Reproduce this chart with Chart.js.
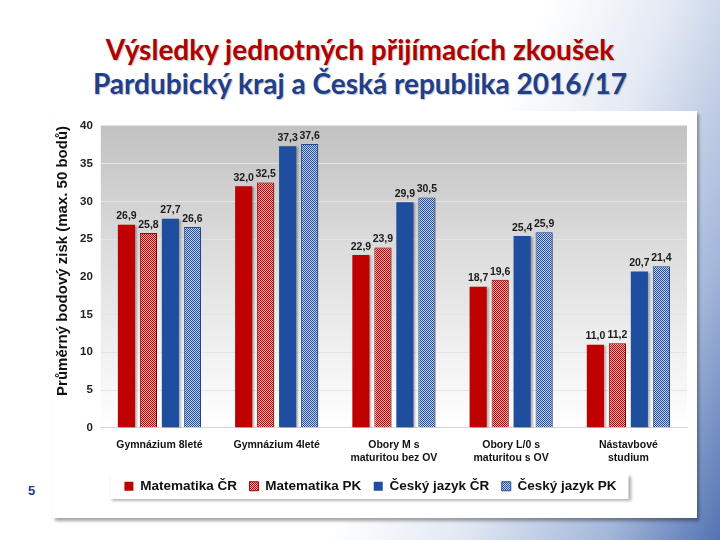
<!DOCTYPE html>
<html>
<head>
<meta charset="utf-8">
<script src="https://cdn.jsdelivr.net/npm/chart.js@4.4.1/dist/chart.umd.min.js"></script>
<style>
  html, body { margin: 0; padding: 0; }
  body {
    width: 720px; height: 540px; overflow: hidden; position: relative;
    background: linear-gradient(112deg, #ffffff 58%, #e3e9f3 72%, #a3b6da 88%, #5273b2 100%);
  }
  .title {
    position: absolute; left: 0; top: 32px; width: 720px; text-align: center;
    font-family: Lato, "Open Sans", sans-serif; font-weight: bold; font-size: 28px;
    line-height: 34px; text-shadow: 1px 1px 1px rgba(0,0,0,0.25);
  }
  .t1 { color: #b00000; }
  .t2 { color: #1f3f8c; }
  #card {
    position: absolute; left: 53px; top: 111px; width: 644px; height: 407px;
    background: #fff; box-shadow: 2px 3px 3px rgba(0,0,0,0.35);
  }
  .num {
    position: absolute; left: 28px; top: 483px; color: #1f3f8c;
    font-family: Arial, "Liberation Sans", sans-serif; font-weight: bold; font-size: 13px;
  }
</style>
</head>
<body>
<div class="title"><div class="t1">Výsledky jednotných přijímacích zkoušek</div><div class="t2">Pardubický kraj a Česká republika 2016/17</div></div>
<div class="num">5</div>
<div id="card"><canvas id="myChart" width="644" height="407"></canvas></div>
<script>
const categories = [
    ['Gymnázium 8leté'],
    ['Gymnázium 4leté'],
    ['Obory M s', 'maturitou bez OV'],
    ['Obory L/0 s', 'maturitou s OV'],
    ['Nástavbové', 'studium']
];
const mathCR = [26.9, 32.0, 22.9, 18.7, 11.0];
const mathPK = [25.8, 32.5, 23.9, 19.6, 11.2];
const czechCR = [27.7, 37.3, 29.9, 25.4, 20.7];
const czechPK = [26.6, 37.6, 30.5, 25.9, 21.4];
const seriesNames = ['Matematika ČR', 'Matematika PK', 'Český jazyk ČR', 'Český jazyk PK'];

const fontFam = "Arial, 'Liberation Sans', sans-serif";

function makePattern(color, light) {
    let c = document.createElement('canvas');
    c.width = 4; c.height = 4;
    let g = c.getContext('2d');
    g.fillStyle = light;
    g.fillRect(0, 0, 4, 4);
    g.fillStyle = color;
    for (let y = 0; y < 4; y++) {
        for (let x = 0; x < 4; x++) {
            if ((x + y) % 2 === 0) g.fillRect(x, y, 1, 1);
        }
    }
    return g.createPattern(c, 'repeat');
}

// plot background, legend frame, bar shadows and value labels
const decorPlugin = {
    id: 'decor',
    beforeDraw(chart) {
        const ctx = chart.ctx;
        const a = chart.chartArea;
        ctx.save();
        let grad = ctx.createLinearGradient(0, a.top, 0, a.bottom);
        grad.addColorStop(0, '#c2c2c2');
        grad.addColorStop(0.5, '#e2e2e2');
        grad.addColorStop(1, '#ffffff');
        ctx.fillStyle = grad;
        ctx.fillRect(a.left, a.top, a.right - a.left, a.bottom - a.top);

        let boxes = chart.legend.legendHitBoxes;
        if (boxes && boxes.length) {
            let l = Math.min(...boxes.map(b => b.left)) - 14;
            let r = Math.max(...boxes.map(b => b.left + b.width)) + 12;
            let t = Math.min(...boxes.map(b => b.top)) - 6;
            let btm = Math.max(...boxes.map(b => b.top + b.height)) + 6;
            ctx.shadowColor = 'rgba(0,0,0,0.35)';
            ctx.shadowOffsetX = 2;
            ctx.shadowOffsetY = 2;
            ctx.shadowBlur = 3;
            ctx.fillStyle = '#ffffff';
            ctx.fillRect(l, t, r - l, btm - t);
        }
        ctx.restore();
    },
    beforeDatasetsDraw(chart) {
        const ctx = chart.ctx;
        ctx.save();
        ctx.shadowColor = 'rgba(0,0,0,0.3)';
        ctx.shadowOffsetX = 2;
        ctx.shadowOffsetY = 1;
        ctx.shadowBlur = 2;
    },
    afterDatasetsDraw(chart) {
        const ctx = chart.ctx;
        ctx.restore();
        ctx.save();
        ctx.font = 'bold 10.5px ' + fontFam;
        ctx.fillStyle = '#1a1a1a';
        ctx.textAlign = 'center';
        ctx.textBaseline = 'bottom';
        chart.data.datasets.forEach((ds, i) => {
            chart.getDatasetMeta(i).data.forEach((bar, j) => {
                let txt = ds.data[j].toFixed(1).replace('.', ',');
                ctx.fillText(txt, bar.x, bar.y - 3);
            });
        });
        ctx.restore();
    }
};

let bar = document.getElementById('myChart').getContext('2d');
let myBarChart = new Chart(bar, {
    type: 'bar',
    data: {
        labels: categories,
        datasets: [{
            label: seriesNames[0],
            data: mathCR,
            backgroundColor: '#c00000',
            borderColor: '#c00000',
            borderWidth: 0
        }, {
            label: seriesNames[1],
            data: mathPK,
            backgroundColor: makePattern('#c00000', '#f0b8b8'),
            borderColor: '#a00000',
            borderWidth: 1
        }, {
            label: seriesNames[2],
            data: czechCR,
            backgroundColor: '#1f4e9e',
            borderColor: '#1f4e9e',
            borderWidth: 0
        }, {
            label: seriesNames[3],
            data: czechPK,
            backgroundColor: makePattern('#1f4e9e', '#c4d2ee'),
            borderColor: '#1f4e9e',
            borderWidth: 1
        }]
    },
    options: {
        responsive: false,
        animation: false,
        layout: { padding: { left: 1, right: 10, top: 10, bottom: 15 } },
        datasets: {
            bar: { categoryPercentage: 0.75, barPercentage: 0.78 }
        },
        scales: {
            x: {
                grid: { display: false },
                border: { color: '#d6d6d6' },
                ticks: {
                    color: '#111',
                    padding: 3,
                    maxRotation: 0,
                    autoSkip: false,
                    font: { family: fontFam, size: 10.5, weight: 'bold', lineHeight: 1.2 }
                }
            },
            y: {
                min: 0,
                max: 40,
                grid: { color: '#e4e4e4', drawTicks: false },
                border: { display: false },
                ticks: {
                    stepSize: 5,
                    color: '#222',
                    padding: 8,
                    font: { family: fontFam, size: 11.5, weight: 'bold' }
                },
                title: {
                    display: true,
                    align: 'end',
                    text: 'Průměrný bodový zisk (max. 50 bodů)',
                    color: '#111',
                    padding: { top: 0, bottom: 0 },
                    font: { family: fontFam, size: 15, weight: 'bold' }
                }
            }
        },
        plugins: {
            legend: {
                position: 'bottom',
                labels: {
                    boxWidth: 9,
                    boxHeight: 9,
                    padding: 12.5,
                    color: '#111',
                    font: { family: fontFam, size: 13.5, weight: 'bold' }
                }
            },
            tooltip: { enabled: false }
        }
    },
    plugins: [decorPlugin]
});
</script>
</body>
</html>
